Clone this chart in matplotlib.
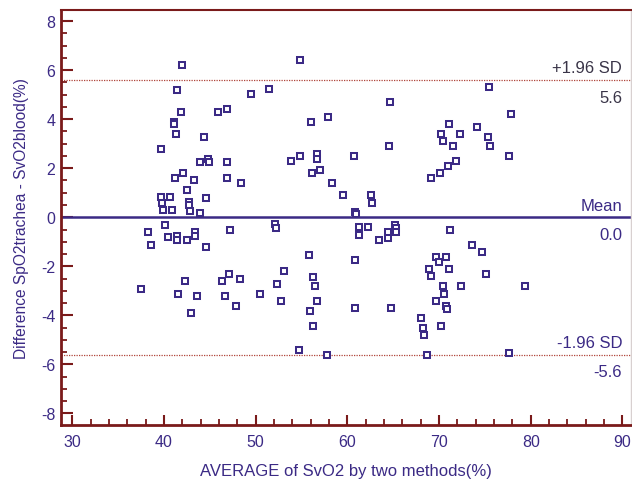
import matplotlib
matplotlib.use("Agg")
import matplotlib.pyplot as plt
from matplotlib.ticker import MultipleLocator

plt.rcParams['font.family'] = ['Liberation Sans', 'DejaVu Sans']
plt.rcParams['axes.unicode_minus'] = False

avg = [41.92, 41.45, 41.85, 45.9, 46.84, 41.06, 41.06, 41.27, 44.36, 39.64,
       43.93, 44.8, 44.9, 46.84, 46.9, 41.2, 42.07, 43.24, 42.47, 39.64,
       40.62, 44.6, 39.75, 42.7, 42.76, 39.9, 40.9, 42.84, 43.93, 48.36,
       49.49, 51.42, 54.78, 56.03, 57.85, 53.88, 54.8, 56.67, 56.7, 56.14,
       57.0, 58.3, 64.65, 64.57, 60.75, 59.57, 62.54, 62.65, 60.86, 60.9,
       69.1, 75.4, 77.88, 71.1, 74.1, 70.25, 70.46, 72.28, 75.37, 71.55,
       75.52, 77.66, 71.81, 70.94, 70.1,
       38.27, 38.57, 40.16, 40.47, 41.45, 41.45, 42.47, 43.35, 43.35, 44.63,
       47.15, 37.49, 42.29, 41.56, 43.63, 42.97, 46.36, 47.1, 48.27, 46.63,
       47.82, 50.5, 52.15, 52.24, 52.34, 52.73, 53.05, 54.7, 55.78, 56.27,
       56.43, 56.72, 55.9, 56.27, 57.75, 60.8, 60.8, 64.8, 61.25, 62.2,
       61.28, 63.48, 64.38, 64.42, 65.15, 65.27, 65.3, 68.0, 68.2, 68.39,
       68.68, 68.95, 69.15, 71.15, 69.7, 70.72, 69.96, 71.05, 73.55, 74.65,
       75.12, 72.39, 79.4, 70.4, 70.57, 69.66, 70.72, 70.83, 70.2, 77.66]
diff = [6.20, 5.20, 4.31, 4.31, 4.40, 3.90, 3.80, 3.40, 3.29, 2.79,
        2.27, 2.37, 2.27, 2.27, 1.60, 1.62, 1.81, 1.51, 1.10, 0.83,
        0.83, 0.80, 0.60, 0.63, 0.48, 0.29, 0.29, 0.27, 0.19, 1.40,
        5.01, 5.21, 6.40, 3.90, 4.09, 2.29, 2.49, 2.59, 2.36, 1.81,
        1.92, 1.40, 4.71, 2.89, 2.48, 0.90, 0.91, 0.60, 0.22, 0.12,
        1.60, 5.31, 4.20, 3.80, 3.69, 3.40, 3.10, 3.39, 3.29, 2.89,
        2.89, 2.49, 2.29, 2.09, 1.82,
        -0.61, -1.13, -0.30, -0.82, -0.78, -0.94, -0.92, -0.61, -0.76, -1.23,
        -0.52, -2.91, -2.61, -3.12, -3.22, -3.92, -2.61, -2.30, -2.52, -3.22,
        -3.62, -3.12, -0.28, -0.43, -2.71, -3.41, -2.21, -5.43, -1.53, -2.42,
        -2.82, -3.41, -3.81, -4.43, -5.63, -1.73, -3.71, -3.71, -0.41, -0.41,
        -0.71, -0.92, -0.61, -0.83, -0.30, -0.44, -0.60, -4.12, -4.52, -4.82,
        -5.62, -2.09, -2.40, -0.51, -1.62, -1.62, -1.82, -2.09, -1.13, -1.43,
        -2.30, -2.82, -2.82, -2.82, -3.12, -3.40, -3.62, -3.73, -4.44, -5.54]

mean_diff = 0.0
upper_loa = 5.6
lower_loa = -5.6
upper_text = ["+1.96 SD", "5.6"]
mean_text = ["Mean", "0.0"]
lower_text = ["-1.96 SD", "-5.6"]

purple = "#3b2a85"
darkred = "#7a1a1a"
lined = "#b0453a"

fig = plt.figure(figsize=(6.32, 4.81), dpi=100)
ax = fig.add_axes([61/632, (481-425.5)/481, (631-61)/632, (425.5-11)/481])

ax.plot(avg, diff, linestyle='none', marker='s', markersize=5.0,
        markerfacecolor='white', markeredgecolor=purple, markeredgewidth=1.45,
        zorder=3)

ax.axhline(mean_diff, color=purple, lw=1.8, zorder=2)
ax.axhline(upper_loa, color=lined, lw=0.9, linestyle=(0, (1, 1)), zorder=1)
ax.axhline(lower_loa, color=lined, lw=0.9, linestyle=(0, (1, 1)), zorder=1)

ax.set_xlim(28.77, 90.93)
ax.set_ylim(-8.45, 8.45)

ax.xaxis.set_major_locator(MultipleLocator(10))
ax.xaxis.set_minor_locator(MultipleLocator(2))
ax.yaxis.set_major_locator(MultipleLocator(2))
ax.yaxis.set_minor_locator(MultipleLocator(0.5))

ax.tick_params(axis='both', which='major', direction='in', color=darkred,
               width=1.5, labelcolor=purple, labelsize=11.5)
ax.tick_params(axis='x', which='major', length=7.5, pad=7)
ax.tick_params(axis='y', which='major', length=8.5, pad=4)
ax.tick_params(axis='both', which='minor', direction='in', color=darkred,
               width=1.3, length=4.5)
ax.tick_params(top=False, right=False, which='both')

for s in ['left', 'bottom']:
    ax.spines[s].set_color(darkred)
    ax.spines[s].set_linewidth(2.0)
ax.spines['top'].set_color(darkred)
ax.spines['top'].set_linewidth(1.5)
ax.spines['right'].set_color('#d8d0d0')
ax.spines['right'].set_linewidth(1.0)

ax.set_xlabel("AVERAGE of SvO2 by two methods(%)", color=purple, fontsize=12,
              labelpad=10)
ax.set_ylabel("Difference SpO2trachea - SvO2blood(%)", color=purple,
              fontsize=11.2, labelpad=9)

xr = 89.95
tc = "#3a3548"
ax.text(xr, upper_loa + 0.18, upper_text[0], ha='right', va='bottom',
        color=tc, fontsize=12)
ax.text(xr, upper_loa - 0.4, upper_text[1], ha='right', va='top',
        color=tc, fontsize=12)
ax.text(xr, mean_diff + 0.18, mean_text[0], ha='right', va='bottom',
        color=purple, fontsize=12)
ax.text(xr, mean_diff - 0.4, mean_text[1], ha='right', va='top',
        color=purple, fontsize=12)
ax.text(xr, lower_loa + 0.18, lower_text[0], ha='right', va='bottom',
        color=purple, fontsize=12)
ax.text(xr, lower_loa - 0.4, lower_text[1], ha='right', va='top',
        color=purple, fontsize=12)

fig.savefig("out.png", dpi=100)
